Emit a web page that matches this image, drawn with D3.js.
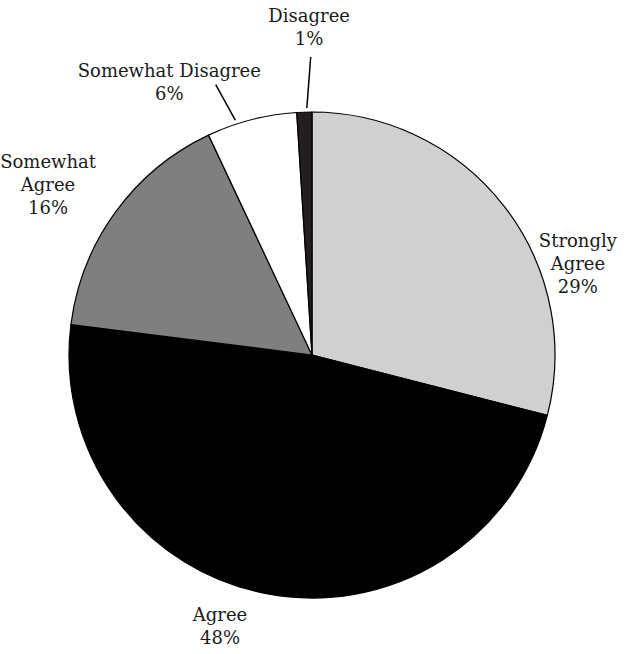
<!DOCTYPE html>
<html>
<head>
<meta charset="utf-8">
<script src="https://cdn.jsdelivr.net/npm/d3@7"></script>
<style>
  html, body { margin: 0; padding: 0; background: #fff; }
  text { font-family: "Palatino Linotype", "Book Antiqua", Palatino, "DejaVu Serif", serif; font-size: 18px; fill: #1a1a1a; }
</style>
</head>
<body>
<div id="chart"></div>
<script>
// Survey response shares, clockwise from 12 o'clock
const categories = ['Strongly Agree', 'Agree', 'Somewhat Agree', 'Somewhat Disagree', 'Disagree'];
const values = [29, 48, 16, 6, 1];
const labelLines = [['Strongly', 'Agree'], ['Agree'], ['Somewhat', 'Agree'], ['Somewhat Disagree'], ['Disagree']];
const fills = ['#d0d0d0', '#000000', '#7f7f7f', '#ffffff', '#231f20'];

// label placement (polar, degrees clockwise from top) - tuned to the reference
const labelLayout = [
  { angle: 71.1, r: 281 },
  { angle: 198.7, r: 287 },
  { angle: 302.8, r: 314 },
  { angle: 332.4, r: 308 },
  { angle: 359.5, r: 328 }
];
// leader lines for the thin slices: start on the rim, end below the label
const leaders = [
  null, null, null,
  { a0: 341.9, r0: 247, a1: 340.4, r1: 287 },
  { a0: 358.8, r0: 247, a1: 359.75, r1: 298 }
];

const width = 627, height = 654;
const cx = 312, cy = 355, radius = 243;
const lineH = 23;

const svg = d3.select('#chart').append('svg')
  .attr('width', width)
  .attr('height', height);

const g = svg.append('g').attr('transform', `translate(${cx},${cy})`);

const pie = d3.pie().sort(null).value(d => d.value);
const arc = d3.arc().innerRadius(0).outerRadius(radius);

const data = categories.map((c, i) => ({ name: c, value: values[i], lines: labelLines[i], fill: fills[i], i }));
const arcs = pie(data);

g.selectAll('path.slice')
  .data(arcs)
  .enter().append('path')
  .attr('class', 'slice')
  .attr('d', arc)
  .style('fill', d => d.data.fill)
  .style('stroke', '#000')
  .style('stroke-width', 1.2)
  .style('stroke-linejoin', 'round');

const polar = (deg, r) => {
  const t = deg * Math.PI / 180;
  return [r * Math.sin(t), -r * Math.cos(t)];
};

// leader lines
g.selectAll('line.leader')
  .data(arcs.filter(d => leaders[d.data.i]))
  .enter().append('line')
  .attr('class', 'leader')
  .each(function(d) {
    const l = leaders[d.data.i];
    const p0 = polar(l.a0, l.r0), p1 = polar(l.a1, l.r1);
    d3.select(this).attr('x1', p0[0]).attr('y1', p0[1]).attr('x2', p1[0]).attr('y2', p1[1]);
  })
  .style('stroke', '#000')
  .style('stroke-width', 1.5);

// labels
const label = g.selectAll('text.label')
  .data(arcs)
  .enter().append('text')
  .attr('class', 'label')
  .attr('text-anchor', 'middle')
  .attr('transform', d => {
    const lay = labelLayout[d.data.i];
    const p = polar(lay.angle, lay.r);
    return `translate(${p[0]},${p[1]})`;
  });

label.each(function(d) {
  const lines = d.data.lines.concat([d3.format('.0%')(d.data.value / 100)]);
  const n = lines.length;
  const top = -(n - 1) * lineH / 2 + 6;
  d3.select(this).selectAll('tspan')
    .data(lines)
    .enter().append('tspan')
    .attr('x', 0)
    .attr('y', (t, k) => top + k * lineH)
    .text(t => t);
});
</script>
</body>
</html>
